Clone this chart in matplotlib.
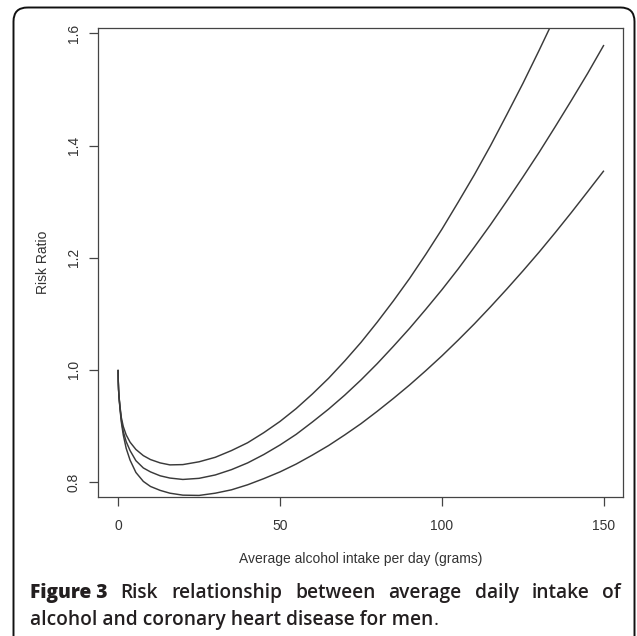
import matplotlib
matplotlib.use("Agg")
import matplotlib.pyplot as plt
from matplotlib.patches import FancyBboxPatch

# ---- data ----
x_grid = [0, 0.05, 0.15, 0.3, 0.6, 1.0, 1.6, 2.5, 3.7, 5.5, 7.8, 10, 13, 16, 20,
          25, 30, 35, 40, 45, 50, 55, 60, 65, 70, 75, 80, 85, 90, 95, 100,
          105, 110, 115, 120, 125, 130, 135, 140, 145, 150]
x_upper = [0, 0.05, 0.15, 0.3, 0.6, 1.0, 1.6, 2.5, 3.7, 5.5, 7.8, 10, 13, 16, 20,
           25, 30, 35, 40, 45, 50, 55, 60, 65, 70, 75, 80, 85, 90, 95, 100,
           105, 110, 115, 120, 125, 130, 133.3]
rr_upper = [1.0, 0.981, 0.966, 0.952, 0.934, 0.915, 0.899, 0.884, 0.871, 0.858, 0.847,
            0.840, 0.834, 0.8305, 0.831,
            0.836, 0.844, 0.856, 0.870, 0.888, 0.908, 0.931, 0.957, 0.985, 1.016,
            1.049, 1.085, 1.123, 1.163, 1.206, 1.251, 1.299, 1.348, 1.400, 1.455,
            1.511, 1.570, 1.61]
rr_middle = [1.0, 0.981, 0.965, 0.951, 0.932, 0.911, 0.890, 0.872, 0.856, 0.838, 0.825,
             0.818, 0.811, 0.807, 0.8045,
             0.8065, 0.8125, 0.822, 0.834, 0.849, 0.866, 0.885, 0.907, 0.930, 0.955,
             0.982, 1.011, 1.042, 1.074, 1.108, 1.143, 1.180, 1.219, 1.259, 1.301,
             1.344, 1.388, 1.434, 1.481, 1.529, 1.5795]
rr_lower = [1.0, 0.981, 0.965, 0.950, 0.930, 0.907, 0.884, 0.860, 0.839, 0.817, 0.801,
            0.792, 0.785, 0.780, 0.7765,
            0.776, 0.780, 0.786, 0.795, 0.806, 0.818, 0.832, 0.848, 0.865, 0.884,
            0.904, 0.926, 0.949, 0.973, 0.9985, 1.025, 1.053, 1.082, 1.1125, 1.144,
            1.1765, 1.210, 1.245, 1.281, 1.318, 1.3553]
x_ticks = [0, 50, 100, 150]
y_ticks = [0.8, 1.0, 1.2, 1.4, 1.6]
y_tick_labels = ["0.8", "1.0", "1.2", "1.4", "1.6"]
x_label = "Average alcohol intake per day (grams)"
y_label = "Risk Ratio"
cap_bold = "Figure 3"
cap_line1 = "Risk relationship between average daily intake of"
cap_line2 = "alcohol and coronary heart disease for men"

W, H = 637, 636
fig = plt.figure(figsize=(W / 100, H / 100), dpi=100)
fig.patch.set_facecolor("white")

ink = "#333333"
plt.rcParams["font.family"] = ["Liberation Sans", "DejaVu Sans"]

# main axes (pixel box: left 98, right 623, top 28, bottom 497)
ax = fig.add_axes([98 / W, 1 - 497 / H, 525 / W, 469 / H])
for xs, ys in ((x_upper, rr_upper), (x_grid, rr_middle), (x_grid, rr_lower)):
    ax.plot(xs, ys, color="#3a3a3a", lw=1.05, solid_capstyle="butt",
            solid_joinstyle="round")
ax.set_xlim(-6.2, 155.9)
ax.set_ylim(0.7732, 1.6098)
ax.set_xticks(x_ticks)
ax.set_xticklabels([str(t) for t in x_ticks])
ax.set_yticks(y_ticks)
ax.set_yticklabels(y_tick_labels, rotation=90, va="center")
for s in ax.spines.values():
    s.set_color("#444444")
    s.set_linewidth(0.9)
ax.tick_params(direction="out", length=6.5, width=0.9, color="#444444",
               labelsize=10, labelcolor=ink)
ax.tick_params(axis="x", pad=9)
ax.tick_params(axis="y", pad=6)
ax.set_xlabel(x_label, fontsize=10, color=ink, labelpad=14)
ax.set_ylabel(y_label, fontsize=10, color=ink, labelpad=12)

# overlay in pixel coordinates for frame and caption
ov = fig.add_axes([0, 0, 1, 1], zorder=-1)
ov.set_xlim(0, W)
ov.set_ylim(H, 0)
ov.axis("off")
ov.patch.set_alpha(0)
frame = FancyBboxPatch((13.5, 7.5), 621, 650, boxstyle="round,pad=0,rounding_size=14",
                       fc="none", ec="#111111", lw=1.4, clip_on=False)
ov.add_patch(frame)

cap_color = "#231f20"
cap_fs = 13.8
renderer = fig.canvas.get_renderer()
left, right = 30, 621
y1, y2 = 593, 620

words1 = [(cap_bold, "heavy")] + [(w, "semibold") for w in cap_line1.split()]
texts = []
for w, wt in words1:
    t = ov.text(0, y1, w, fontsize=cap_fs, fontweight=wt, color=cap_color,
                family=["Open Sans", "DejaVu Sans"], va="center", ha="left")
    texts.append(t)
widths = [t.get_window_extent(renderer).width for t in texts]
gap = (right - left - sum(widths)) / (len(texts) - 1)
xpos = left
for t, wd in zip(texts, widths):
    t.set_x(xpos)
    xpos += wd + gap

t2 = ov.text(left, y2, cap_line2, fontsize=cap_fs, fontweight="semibold", color=cap_color,
             family=["Open Sans", "DejaVu Sans"], va="center", ha="left")
w2 = t2.get_window_extent(renderer).width
ov.text(left + w2, y2, ".", fontsize=cap_fs, fontweight="normal", color=cap_color,
        family=["Open Sans", "DejaVu Sans"], va="center", ha="left")

fig.savefig("out.png", dpi=100)
